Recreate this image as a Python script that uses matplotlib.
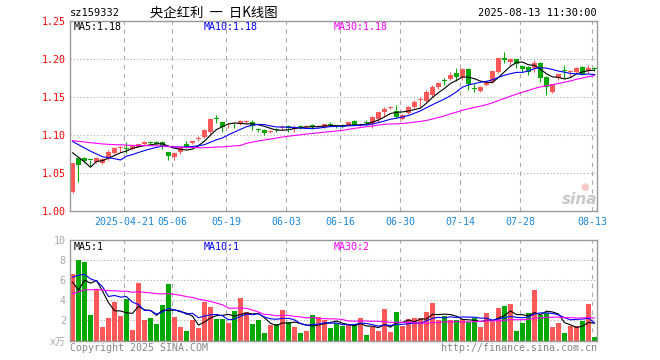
import numpy as np
import pandas as pd
import matplotlib
matplotlib.use("Agg")
import matplotlib.pyplot as plt

plt.rcParams['font.family'] = ['DejaVu Sans Mono', 'Noto Sans CJK SC']

RED = "#FF5858"
GREEN = "#00A800"

# daily candles, 2025-04-08 .. 2025-08-13
opens = [
    1.026, 1.070, 1.070, 1.068, 1.065, 1.064, 1.070, 1.077, 1.083, 1.083,
    1.082, 1.085, 1.088, 1.091, 1.091, 1.091, 1.078, 1.071, 1.078, 1.089,
    1.090, 1.095, 1.098, 1.104, 1.123, 1.1175, 1.113, 1.114, 1.115, 1.117,
    1.118, 1.108, 1.1066, 1.105, 1.108, 1.110, 1.112, 1.108, 1.1115, 1.111,
    1.114, 1.111, 1.1105, 1.115, 1.113, 1.1137, 1.114, 1.1188, 1.114, 1.117,
    1.115, 1.122, 1.131, 1.1365, 1.132, 1.1215, 1.130, 1.1377, 1.146, 1.1451,
    1.153, 1.164, 1.172, 1.174, 1.182, 1.1771, 1.1872, 1.162, 1.1583, 1.1662,
    1.1697, 1.1837, 1.2013, 1.1969, 1.2004, 1.1916, 1.1903, 1.1881, 1.1947, 1.1771,
    1.1574, 1.175, 1.185, 1.1835, 1.1837, 1.1903, 1.1846, 1.1875]
closes = [
    1.064, 1.061, 1.066, 1.067, 1.070, 1.069, 1.078, 1.083, 1.085, 1.082,
    1.086, 1.088, 1.091, 1.090, 1.089, 1.086, 1.073, 1.077, 1.083, 1.084,
    1.092, 1.096, 1.107, 1.122, 1.121, 1.111, 1.114, 1.113, 1.119, 1.118,
    1.112, 1.107, 1.103, 1.1055, 1.107, 1.111, 1.110, 1.111, 1.111, 1.112,
    1.1115, 1.112, 1.1144, 1.114, 1.1105, 1.111, 1.1175, 1.114, 1.115, 1.1165,
    1.124, 1.1307, 1.135, 1.137, 1.1245, 1.1265, 1.137, 1.1442, 1.1465, 1.1574,
    1.164, 1.169, 1.1712, 1.1798, 1.1771, 1.1868, 1.167, 1.1615, 1.164, 1.1697,
    1.1846, 1.2013, 1.1986, 1.2004, 1.1942, 1.1872, 1.1837, 1.1947, 1.175, 1.164,
    1.167, 1.1802, 1.1843, 1.184, 1.188, 1.1802, 1.189, 1.187]
highs = [
    1.064, 1.071, 1.072, 1.068, 1.072, 1.070, 1.080, 1.085, 1.086, 1.091,
    1.087, 1.089, 1.092, 1.092, 1.092, 1.092, 1.078, 1.078, 1.084, 1.092,
    1.093, 1.099, 1.108, 1.123, 1.127, 1.118, 1.116, 1.116, 1.120, 1.120,
    1.120, 1.110, 1.108, 1.107, 1.109, 1.113, 1.113, 1.114, 1.114, 1.114,
    1.115, 1.114, 1.115, 1.117, 1.114, 1.115, 1.118, 1.120, 1.116, 1.1197,
    1.126, 1.131, 1.137, 1.139, 1.140, 1.128, 1.139, 1.1464, 1.1508, 1.159,
    1.166, 1.170, 1.1758, 1.1837, 1.189, 1.188, 1.188, 1.167, 1.165, 1.1714,
    1.185, 1.2021, 1.210, 1.2013, 1.2010, 1.192, 1.191, 1.199, 1.1969, 1.178,
    1.168, 1.181, 1.1925, 1.1859, 1.190, 1.191, 1.1925, 1.190]
lows = [
    1.024, 1.038, 1.063, 1.059, 1.064, 1.062, 1.068, 1.075, 1.078, 1.077,
    1.081, 1.084, 1.087, 1.087, 1.087, 1.082, 1.068, 1.068, 1.076, 1.083,
    1.088, 1.092, 1.097, 1.102, 1.116, 1.104, 1.110, 1.110, 1.114, 1.115,
    1.107, 1.104, 1.101, 1.103, 1.105, 1.107, 1.105, 1.105, 1.108, 1.109,
    1.108, 1.110, 1.109, 1.112, 1.109, 1.110, 1.113, 1.113, 1.112, 1.113,
    1.1096, 1.118, 1.1254, 1.1346, 1.123, 1.120, 1.128, 1.1355, 1.1377, 1.144,
    1.151, 1.1605, 1.1662, 1.1727, 1.1719, 1.1727, 1.1596, 1.1565, 1.157, 1.1644,
    1.169, 1.182, 1.1947, 1.1925, 1.1881, 1.1837, 1.1793, 1.1837, 1.1706, 1.153,
    1.156, 1.1728, 1.175, 1.1771, 1.1815, 1.1795, 1.1815, 1.1846]
# volume in 万手
volume = [
    6.6, 8.0, 7.8, 2.5, 5.0, 1.3, 2.2, 3.8, 2.4, 4.1,
    1.0, 5.7, 2.0, 2.2, 1.6, 3.5, 5.6, 2.3, 1.3, 0.9,
    2.0, 1.2, 3.8, 3.3, 2.1, 2.1, 1.7, 2.9, 4.2, 2.8,
    1.6, 2.0, 0.7, 1.5, 1.6, 3.0, 1.8, 1.3, 0.7, 0.9,
    2.5, 2.3, 2.0, 1.2, 1.7, 1.4, 1.6, 1.5, 2.2, 0.5,
    1.3, 0.9, 3.1, 0.8, 2.8, 1.4, 2.1, 2.2, 2.2, 2.8,
    3.7, 2.0, 2.4, 2.0, 2.0, 2.1, 1.8, 2.2, 1.3, 2.7,
    1.8, 3.2, 3.4, 3.6, 0.9, 1.7, 2.7, 5.0, 2.5, 2.7,
    1.3, 1.7, 0.7, 1.4, 1.4, 1.9, 3.6, 0.3]

# sessions before the window, estimated from where the MA lines start
prior_close = [
    1.090, 1.092, 1.094, 1.095, 1.094, 1.093, 1.092, 1.094, 1.095, 1.096,
    1.095, 1.094, 1.093, 1.092, 1.093, 1.094, 1.095, 1.094, 1.093, 1.092,
    1.105, 1.108, 1.110, 1.107, 1.105, 1.091, 1.096, 1.102, 1.032]
prior_volume = [
    2.0, 2.0, 2.5, 3.5, 3.5, 4.0, 4.0, 4.0, 4.0, 4.0,
    4.0, 4.0, 4.0, 4.0, 4.0, 4.5, 4.5, 4.5, 4.5, 5.0,
    6.0, 7.0, 7.0, 7.0, 7.0, 12.0, 2.8, 4.0, 3.6]

tick_idx = [9, 17, 26, 36, 45, 55, 65, 75, 87]
tick_labels = ["2025-04-21", "05-06", "05-19", "06-03", "06-16",
               "06-30", "07-14", "07-28", "08-13"]


def moving_avg(prior, data, n):
    s = pd.Series(list(prior) + list(data))
    return s.rolling(n).mean().to_numpy()[len(prior):]


o = np.array(opens)
c = np.array(closes)
h = np.array(highs)
l = np.array(lows)
v = np.array(volume)
x = np.arange(len(c))
cols = np.where(c >= o, RED, GREEN)

W, H = 660, 360
fig = plt.figure(figsize=(6.6, 3.6), dpi=100)
fig.patch.set_facecolor("white")
ax = fig.add_axes([70 / W, 1 - 211.3 / H, 527 / W, 190 / H])
axv = fig.add_axes([70 / W, 1 - 340.5 / H, 527 / W, 100.5 / H])

xlo, xhi = -0.4167, 87.42
grid_x = np.array(tick_idx) - 0.4167

for a in (ax, axv):
    a.set_xlim(xlo, xhi)
    for s in a.spines.values():
        s.set_color("#999999")
        s.set_linewidth(1)
    for gx in grid_x:
        a.axvline(gx, color="#AAAAAA", lw=0.8, ls=(0, (4, 4)), zorder=0)
    a.tick_params(length=0)

# price panel
ax.set_ylim(1.0, 1.25)
for gy in [1.05, 1.10, 1.15, 1.20]:
    ax.axhline(gy, color="#AAAAAA", lw=0.8, ls=(0, (1, 2)), zorder=0)
ax.vlines(x, l, h, colors=cols, lw=0.8, zorder=2)
ax.bar(x, np.maximum(np.abs(c - o), 0.0012), 0.8, bottom=np.minimum(o, c),
       color=cols, lw=0, zorder=2)
ax.plot(x, moving_avg(prior_close, c, 5), color="black", lw=0.8, zorder=3)
ax.plot(x, moving_avg(prior_close, c, 10), color="#0000FF", lw=0.8, zorder=3)
ax.plot(x, moving_avg(prior_close, c, 30), color="#FF00FF", lw=0.8, zorder=3)
ax.set_yticks([1.00, 1.05, 1.10, 1.15, 1.20, 1.25])
ax.set_yticklabels(["1.00", "1.05", "1.10", "1.15", "1.20", "1.25"],
                   color="#FF0000", fontsize=7.2)
ax.tick_params(axis="y", pad=3)
ax.set_xticks(grid_x)
ax.set_xticklabels(tick_labels, color="#1A88D8", fontsize=7.2)
ax.tick_params(axis="x", pad=4)

# volume panel
axv.set_ylim(0, 10)
for gy in [2, 4, 6, 8]:
    axv.axhline(gy, color="#AAAAAA", lw=0.8, ls=(0, (1, 2)), zorder=0)
axv.bar(x, v, 0.8, color=cols, lw=0, zorder=2)
axv.plot(x, moving_avg(prior_volume, v, 5), color="black", lw=0.8, zorder=3)
axv.plot(x, moving_avg(prior_volume, v, 10), color="#0000FF", lw=0.8, zorder=3)
axv.plot(x, moving_avg(prior_volume, v, 30), color="#FF00FF", lw=0.8, zorder=3)
axv.set_yticks([0, 2, 4, 6, 8, 10])
axv.set_yticklabels(["x万", "2", "4", "6", "8", "10"], color="#AAAAAA", fontsize=7.2)
axv.tick_params(axis="y", pad=3)
axv.set_xticks([])


def txt(px, py, s, **kw):
    fig.text(px / W, 1 - py / H, s, va="center", **kw)


txt(70, 13, "sz159332", fontsize=7.5, color="black")
txt(214, 13, "央企红利  一  日K线图", fontsize=9.6, ha="center", color="black",
    family=["Noto Sans CJK SC", "DejaVu Sans"])
txt(597, 13, "2025-08-13 11:30:00", fontsize=7.5, ha="right", color="black")

txt(74, 27, "MA5:1.18", fontsize=7.2, color="black")
txt(204, 27, "MA10:1.18", fontsize=7.2, color="#0000FF")
txt(334, 27, "MA30:1.18", fontsize=7.2, color="#FF00FF")
txt(74, 247, "MA5:1", fontsize=7.2, color="black")
txt(204, 247, "MA10:1", fontsize=7.2, color="#0000FF")
txt(334, 247, "MA30:2", fontsize=7.2, color="#FF00FF")

txt(70, 348, "Copyright 2025 SINA.COM", fontsize=7.2, color="#888888")
txt(597, 348, "http://finance.sina.com.cn", fontsize=7.2, ha="right", color="#888888")

# faint sina watermark
txt(580, 200, "sina", fontsize=11, ha="center", color="#C8C8C8",
    family="DejaVu Sans", style="italic", weight="bold")
txt(585, 187, "●", fontsize=7, ha="center", color="#F6C8C8", family="DejaVu Sans")

fig.savefig("out.png", dpi=100)
